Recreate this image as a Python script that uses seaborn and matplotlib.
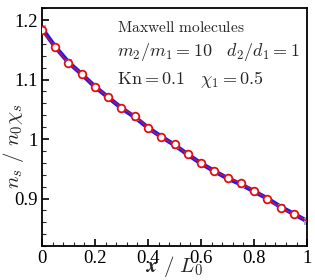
import numpy as np
import pandas as pd
import matplotlib
matplotlib.use("Agg")
import matplotlib.pyplot as plt
import seaborn as sns
from matplotlib.ticker import MultipleLocator

x_pos = [0.0, 0.05, 0.10, 0.15, 0.20, 0.25, 0.30, 0.35, 0.40, 0.45,
         0.50, 0.55, 0.60, 0.65, 0.70, 0.75, 0.80, 0.85, 0.90, 0.95, 1.0]
ns_blue = [1.186, 1.155, 1.129, 1.109, 1.088, 1.070, 1.052, 1.037, 1.019, 1.004,
           0.990, 0.974, 0.959, 0.946, 0.934, 0.924, 0.912, 0.900, 0.886, 0.874, 0.862]
ns_red = [1.183, 1.154, 1.128, 1.110, 1.088, 1.071, 1.052, 1.039, 1.019, 1.003,
          0.991, 0.974, 0.959, 0.946, 0.935, 0.926, 0.913, 0.900, 0.884, 0.874, 0.862]

sns.set_style("white")
plt.rcParams['font.family'] = ['Liberation Serif', 'DejaVu Serif']
plt.rcParams['mathtext.fontset'] = 'cm'

fig = plt.figure(figsize=(3.15, 2.8), dpi=100)
ax = fig.add_axes([0.133, 0.121, 0.842, 0.850])

df_b = pd.DataFrame({"x": x_pos, "y": ns_blue})
df_r = pd.DataFrame({"x": x_pos, "y": ns_red})
sns.lineplot(data=df_b, x="x", y="y", ax=ax, color="#1a1aff", lw=3.2,
             marker="s", markersize=5, markerfacecolor="#8fa8ff",
             markeredgecolor="#8fa8ff", zorder=2)
sns.lineplot(data=df_r, x="x", y="y", ax=ax, color="#e01010", lw=1.0,
             marker="o", markersize=5.5, markerfacecolor="white",
             markeredgecolor="#e01010", markeredgewidth=1.3, markevery=list(range(20)),
             zorder=3)

ax.set_xlim(0, 1)
ax.set_ylim(0.82, 1.22)
ax.set_xticks([0, 0.2, 0.4, 0.6, 0.8, 1.0])
ax.set_xticklabels(["0", "0.2", "0.4", "0.6", "0.8", "1"])
ax.set_yticks([0.9, 1.0, 1.1, 1.2])
ax.set_yticklabels(["0.9", "1", "1.1", "1.2"])
ax.xaxis.set_minor_locator(MultipleLocator(0.04))
ax.yaxis.set_minor_locator(MultipleLocator(0.02))
ax.tick_params(which="major", direction="in", length=5, width=1.2, labelsize=13.5,
               bottom=True, left=True, top=False, right=False, pad=3, colors="black")
ax.tick_params(which="minor", direction="in", length=3, width=0.8,
               bottom=True, left=True, top=False, right=False)
for s in ax.spines.values():
    s.set_linewidth(1.3)
    s.set_color("black")

ax.set_xlabel(r"$\boldsymbol{x\ /\ L_0}$", fontsize=15)
ax.xaxis.set_label_coords(0.5, -0.035)
ax.set_ylabel(r"$\boldsymbol{n_s\ /\ n_0\chi_s}$", fontsize=15)
ax.yaxis.set_label_coords(-0.06, 0.42)

ax.text(0.283, 0.916, r"$\mathrm{Maxwell\ molecules}$", transform=ax.transAxes,
        fontsize=11.2, va="center")
ax.text(0.283, 0.815, r"$m_2/m_1=10\quad d_2/d_1=1$", transform=ax.transAxes,
        fontsize=13, va="center")
ax.text(0.283, 0.70, r"$\mathrm{Kn}=0.1\quad \chi_1=0.5$", transform=ax.transAxes,
        fontsize=13, va="center")

fig.savefig("out.png", dpi=100)
